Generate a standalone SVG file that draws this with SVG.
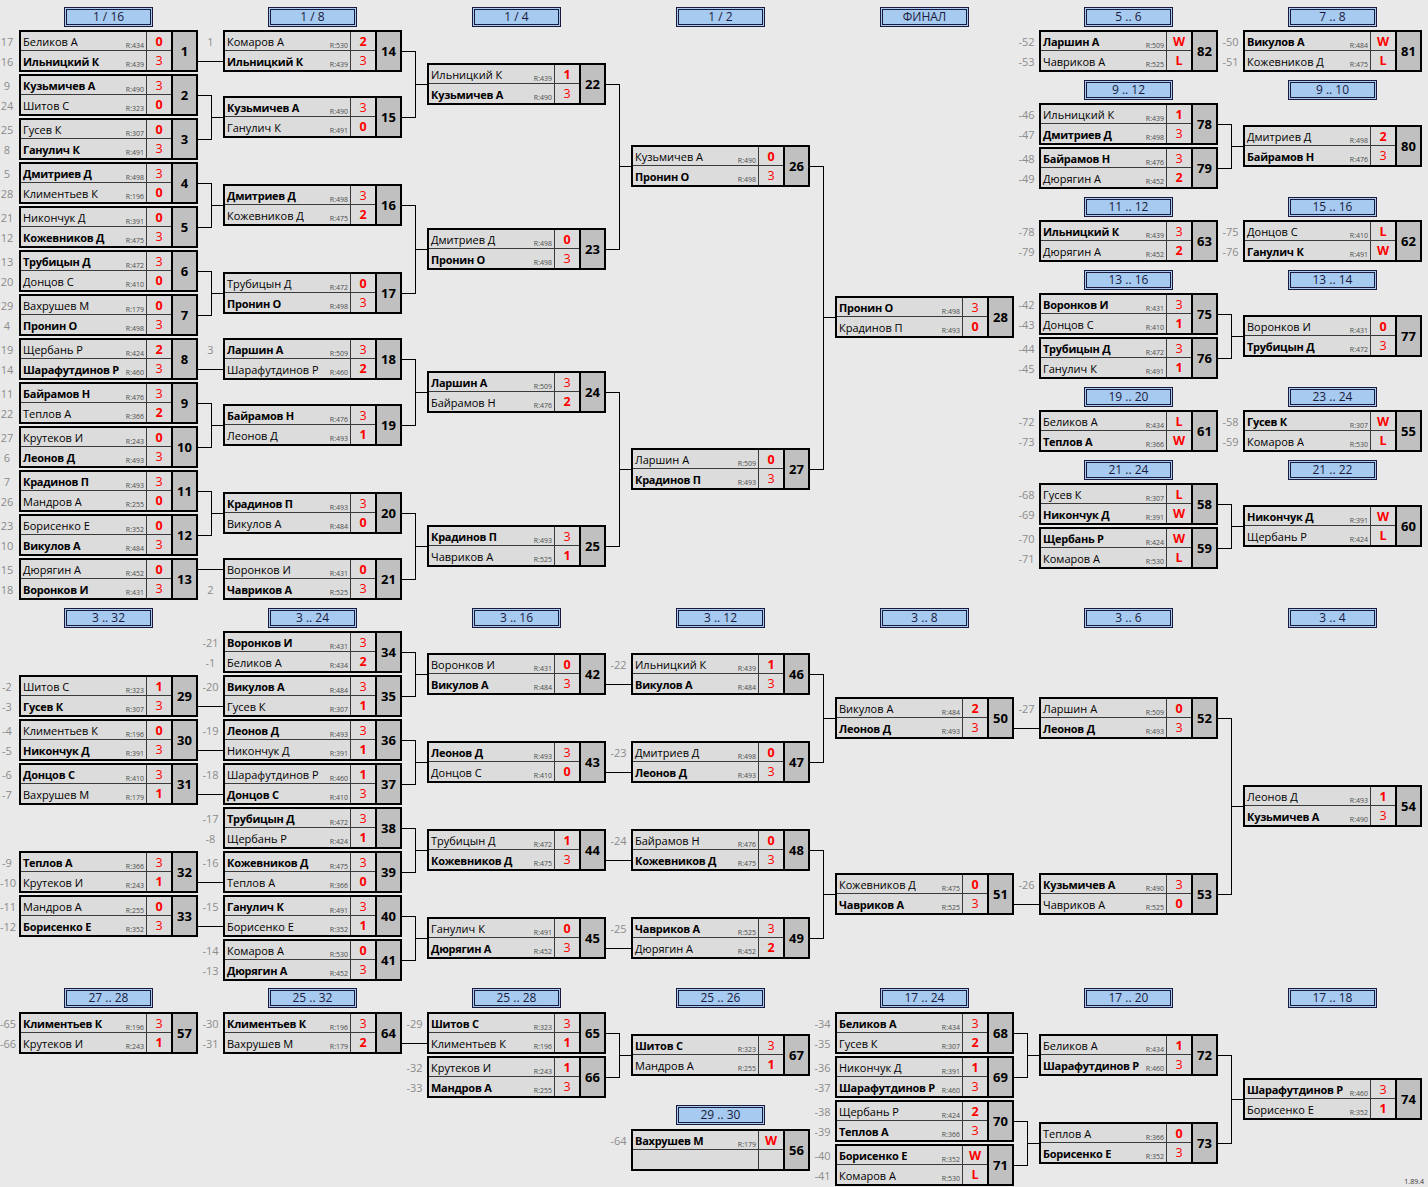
<svg xmlns="http://www.w3.org/2000/svg" xmlns:xlink="http://www.w3.org/1999/xlink" width="1428" height="1187" viewBox="0 0 1428 1187">
<style>
svg{font-family:"Open Sans","Noto Sans",sans-serif}
.nm{font-size:11px;fill:#000}
.b{font-weight:700}
.nm.b{letter-spacing:-0.25px}
.rt{font-size:7px;fill:#4d4d4d;text-anchor:end}
.sc{font-size:12.5px;fill:#f00;text-anchor:middle;letter-spacing:0}
.no{font-size:13px;font-weight:700;text-anchor:middle;fill:#000}
.sd{font-size:11px;fill:#8c8c8c;text-anchor:middle}
.hd{font-size:12px;fill:#1a1a3c;text-anchor:middle}
.ver{font-size:7px;fill:#333;text-anchor:end}
</style>
<defs>
<g id="bx">
<rect x="1" y="1" width="177" height="40" fill="#dcdcdc"/>
<rect x="153" y="1" width="25" height="40" fill="#c0c0c0"/>
<path d="M1 20.5H153M127.5 1V41" stroke="#3a3a3a" stroke-width="1" fill="none"/>
<path d="M153 1V41" stroke="#000" stroke-width="2"/>
<rect x="1" y="1" width="177" height="40" fill="none" stroke="#000" stroke-width="2"/>
</g>
<g id="hb">
<rect x="45.5" y="0.5" width="88" height="19" fill="#a6caf0" stroke="#1a1a3c" stroke-width="1"/>
<rect x="47.5" y="2.5" width="84" height="15" fill="none" stroke="#1a1a3c" stroke-width="1"/>
</g>
</defs>
<rect width="1428" height="1187" fill="#e9e9e9"/>

<g id="headers">
<g id="h-1-16" transform="translate(19 7)"><use href="#hb"/><text class="hd" x="89.5" y="14">1 / 16</text></g>
<g id="h-1-8" transform="translate(223 7)"><use href="#hb"/><text class="hd" x="89.5" y="14">1 / 8</text></g>
<g id="h-1-4" transform="translate(427 7)"><use href="#hb"/><text class="hd" x="89.5" y="14">1 / 4</text></g>
<g id="h-1-2" transform="translate(631 7)"><use href="#hb"/><text class="hd" x="89.5" y="14">1 / 2</text></g>
<g id="h-final" transform="translate(835 7)"><use href="#hb"/><text class="hd" x="89.5" y="14">ФИНАЛ</text></g>
<g id="h-5-6" transform="translate(1039 7)"><use href="#hb"/><text class="hd" x="89.5" y="14">5 .. 6</text></g>
<g id="h-7-8" transform="translate(1243 7)"><use href="#hb"/><text class="hd" x="89.5" y="14">7 .. 8</text></g>
<g id="h-9-12" transform="translate(1039 80)"><use href="#hb"/><text class="hd" x="89.5" y="14">9 .. 12</text></g>
<g id="h-9-10" transform="translate(1243 80)"><use href="#hb"/><text class="hd" x="89.5" y="14">9 .. 10</text></g>
<g id="h-11-12" transform="translate(1039 197)"><use href="#hb"/><text class="hd" x="89.5" y="14">11 .. 12</text></g>
<g id="h-15-16" transform="translate(1243 197)"><use href="#hb"/><text class="hd" x="89.5" y="14">15 .. 16</text></g>
<g id="h-13-16" transform="translate(1039 270)"><use href="#hb"/><text class="hd" x="89.5" y="14">13 .. 16</text></g>
<g id="h-13-14" transform="translate(1243 270)"><use href="#hb"/><text class="hd" x="89.5" y="14">13 .. 14</text></g>
<g id="h-19-20" transform="translate(1039 387)"><use href="#hb"/><text class="hd" x="89.5" y="14">19 .. 20</text></g>
<g id="h-23-24" transform="translate(1243 387)"><use href="#hb"/><text class="hd" x="89.5" y="14">23 .. 24</text></g>
<g id="h-21-24" transform="translate(1039 460)"><use href="#hb"/><text class="hd" x="89.5" y="14">21 .. 24</text></g>
<g id="h-21-22" transform="translate(1243 460)"><use href="#hb"/><text class="hd" x="89.5" y="14">21 .. 22</text></g>
<g id="h-3-32" transform="translate(19 608)"><use href="#hb"/><text class="hd" x="89.5" y="14">3 .. 32</text></g>
<g id="h-3-24" transform="translate(223 608)"><use href="#hb"/><text class="hd" x="89.5" y="14">3 .. 24</text></g>
<g id="h-3-16" transform="translate(427 608)"><use href="#hb"/><text class="hd" x="89.5" y="14">3 .. 16</text></g>
<g id="h-3-12" transform="translate(631 608)"><use href="#hb"/><text class="hd" x="89.5" y="14">3 .. 12</text></g>
<g id="h-3-8" transform="translate(835 608)"><use href="#hb"/><text class="hd" x="89.5" y="14">3 .. 8</text></g>
<g id="h-3-6" transform="translate(1039 608)"><use href="#hb"/><text class="hd" x="89.5" y="14">3 .. 6</text></g>
<g id="h-3-4" transform="translate(1243 608)"><use href="#hb"/><text class="hd" x="89.5" y="14">3 .. 4</text></g>
<g id="h-27-28" transform="translate(19 988)"><use href="#hb"/><text class="hd" x="89.5" y="14">27 .. 28</text></g>
<g id="h-25-32" transform="translate(223 988)"><use href="#hb"/><text class="hd" x="89.5" y="14">25 .. 32</text></g>
<g id="h-25-28" transform="translate(427 988)"><use href="#hb"/><text class="hd" x="89.5" y="14">25 .. 28</text></g>
<g id="h-25-26" transform="translate(631 988)"><use href="#hb"/><text class="hd" x="89.5" y="14">25 .. 26</text></g>
<g id="h-17-24" transform="translate(835 988)"><use href="#hb"/><text class="hd" x="89.5" y="14">17 .. 24</text></g>
<g id="h-17-20" transform="translate(1039 988)"><use href="#hb"/><text class="hd" x="89.5" y="14">17 .. 20</text></g>
<g id="h-17-18" transform="translate(1243 988)"><use href="#hb"/><text class="hd" x="89.5" y="14">17 .. 18</text></g>
<g id="h-29-30" transform="translate(631 1105)"><use href="#hb"/><text class="hd" x="89.5" y="14">29 .. 30</text></g>
</g>

<g id="connectors" fill="none" stroke="#000" stroke-width="1" shape-rendering="crispEdges">
<path d="M198 61H223"/>
<path d="M198 95H211V139H198M211 117H223"/>
<path d="M198 183H211V227H198M211 205H223"/>
<path d="M198 271H211V315H198M211 293H223"/>
<path d="M198 369H223"/>
<path d="M198 403H211V447H198M211 425H223"/>
<path d="M198 491H211V535H198M211 513H223"/>
<path d="M198 569H223"/>
<path d="M402 51H415V117H402M415 84H427"/>
<path d="M402 205H415V293H402M415 249H427"/>
<path d="M402 359H415V425H402M415 392H427"/>
<path d="M402 513H415V579H402M415 546H427"/>
<path d="M606 84H619V249H606M619 166H631"/>
<path d="M606 392H619V546H606M619 469H631"/>
<path d="M810 166H823V469H810M823 317H835"/>
<path d="M1218 124H1231V168H1218M1231 146H1243"/>
<path d="M1218 314H1231V358H1218M1231 336H1243"/>
<path d="M1218 504H1231V548H1218M1231 526H1243"/>
<path d="M198 706H223M198 750H223M198 794H223M198 882H223M198 926H223"/>
<path d="M402 652H415V696H402M415 674H427"/>
<path d="M402 740H415V784H402M415 762H427"/>
<path d="M402 828H415V872H402M415 850H427"/>
<path d="M402 916H415V960H402M415 938H427"/>
<path d="M606 684H631M606 772H631M606 860H631M606 948H631"/>
<path d="M810 674H823V762H810M823 718H835"/>
<path d="M810 850H823V938H810M823 894H835"/>
<path d="M1014 728H1039M1014 904H1039"/>
<path d="M1218 718H1231V894H1218M1231 806H1243"/>
<path d="M402 1043H427"/>
<path d="M606 1033H619V1077H606M619 1055H631"/>
<path d="M1014 1033H1027V1077H1014M1027 1055H1039"/>
<path d="M1014 1121H1027V1165H1014M1027 1143H1039"/>
<path d="M1218 1055H1231V1143H1218M1231 1099H1243"/>
</g>

<g id="matches">
<g id="m1" transform="translate(19 30)"><use href="#bx"/><text class="sd" x="-12" y="15.5">17</text><text class="nm" x="4" y="15.5">Беликов А</text><text class="rt" x="125" y="18">R:434</text><text class="sc b" x="140" y="15.5">0</text><text class="sd" x="-12" y="35.5">16</text><text class="nm b" x="4" y="35.5">Ильницкий К</text><text class="rt" x="125" y="37">R:439</text><text class="sc" x="140" y="35">3</text><text class="no" x="165.5" y="26">1</text></g>
<g id="m2" transform="translate(19 74)"><use href="#bx"/><text class="sd" x="-12" y="15.5">9</text><text class="nm b" x="4" y="15.5">Кузьмичев А</text><text class="rt" x="125" y="18">R:490</text><text class="sc" x="140" y="15.5">3</text><text class="sd" x="-12" y="35.5">24</text><text class="nm" x="4" y="35.5">Шитов С</text><text class="rt" x="125" y="37">R:323</text><text class="sc b" x="140" y="35">0</text><text class="no" x="165.5" y="26">2</text></g>
<g id="m3" transform="translate(19 118)"><use href="#bx"/><text class="sd" x="-12" y="15.5">25</text><text class="nm" x="4" y="15.5">Гусев К</text><text class="rt" x="125" y="18">R:307</text><text class="sc b" x="140" y="15.5">0</text><text class="sd" x="-12" y="35.5">8</text><text class="nm b" x="4" y="35.5">Ганулич К</text><text class="rt" x="125" y="37">R:491</text><text class="sc" x="140" y="35">3</text><text class="no" x="165.5" y="26">3</text></g>
<g id="m4" transform="translate(19 162)"><use href="#bx"/><text class="sd" x="-12" y="15.5">5</text><text class="nm b" x="4" y="15.5">Дмитриев Д</text><text class="rt" x="125" y="18">R:498</text><text class="sc" x="140" y="15.5">3</text><text class="sd" x="-12" y="35.5">28</text><text class="nm" x="4" y="35.5">Климентьев К</text><text class="rt" x="125" y="37">R:196</text><text class="sc b" x="140" y="35">0</text><text class="no" x="165.5" y="26">4</text></g>
<g id="m5" transform="translate(19 206)"><use href="#bx"/><text class="sd" x="-12" y="15.5">21</text><text class="nm" x="4" y="15.5">Никончук Д</text><text class="rt" x="125" y="18">R:391</text><text class="sc b" x="140" y="15.5">0</text><text class="sd" x="-12" y="35.5">12</text><text class="nm b" x="4" y="35.5">Кожевников Д</text><text class="rt" x="125" y="37">R:475</text><text class="sc" x="140" y="35">3</text><text class="no" x="165.5" y="26">5</text></g>
<g id="m6" transform="translate(19 250)"><use href="#bx"/><text class="sd" x="-12" y="15.5">13</text><text class="nm b" x="4" y="15.5">Трубицын Д</text><text class="rt" x="125" y="18">R:472</text><text class="sc" x="140" y="15.5">3</text><text class="sd" x="-12" y="35.5">20</text><text class="nm" x="4" y="35.5">Донцов С</text><text class="rt" x="125" y="37">R:410</text><text class="sc b" x="140" y="35">0</text><text class="no" x="165.5" y="26">6</text></g>
<g id="m7" transform="translate(19 294)"><use href="#bx"/><text class="sd" x="-12" y="15.5">29</text><text class="nm" x="4" y="15.5">Вахрушев М</text><text class="rt" x="125" y="18">R:179</text><text class="sc b" x="140" y="15.5">0</text><text class="sd" x="-12" y="35.5">4</text><text class="nm b" x="4" y="35.5">Пронин О</text><text class="rt" x="125" y="37">R:498</text><text class="sc" x="140" y="35">3</text><text class="no" x="165.5" y="26">7</text></g>
<g id="m8" transform="translate(19 338)"><use href="#bx"/><text class="sd" x="-12" y="15.5">19</text><text class="nm" x="4" y="15.5">Щербань Р</text><text class="rt" x="125" y="18">R:424</text><text class="sc b" x="140" y="15.5">2</text><text class="sd" x="-12" y="35.5">14</text><text class="nm b" x="4" y="35.5">Шарафутдинов Р</text><text class="rt" x="125" y="37">R:460</text><text class="sc" x="140" y="35">3</text><text class="no" x="165.5" y="26">8</text></g>
<g id="m9" transform="translate(19 382)"><use href="#bx"/><text class="sd" x="-12" y="15.5">11</text><text class="nm b" x="4" y="15.5">Байрамов Н</text><text class="rt" x="125" y="18">R:476</text><text class="sc" x="140" y="15.5">3</text><text class="sd" x="-12" y="35.5">22</text><text class="nm" x="4" y="35.5">Теплов А</text><text class="rt" x="125" y="37">R:366</text><text class="sc b" x="140" y="35">2</text><text class="no" x="165.5" y="26">9</text></g>
<g id="m10" transform="translate(19 426)"><use href="#bx"/><text class="sd" x="-12" y="15.5">27</text><text class="nm" x="4" y="15.5">Крутеков И</text><text class="rt" x="125" y="18">R:243</text><text class="sc b" x="140" y="15.5">0</text><text class="sd" x="-12" y="35.5">6</text><text class="nm b" x="4" y="35.5">Леонов Д</text><text class="rt" x="125" y="37">R:493</text><text class="sc" x="140" y="35">3</text><text class="no" x="165.5" y="26">10</text></g>
<g id="m11" transform="translate(19 470)"><use href="#bx"/><text class="sd" x="-12" y="15.5">7</text><text class="nm b" x="4" y="15.5">Крадинов П</text><text class="rt" x="125" y="18">R:493</text><text class="sc" x="140" y="15.5">3</text><text class="sd" x="-12" y="35.5">26</text><text class="nm" x="4" y="35.5">Мандров А</text><text class="rt" x="125" y="37">R:255</text><text class="sc b" x="140" y="35">0</text><text class="no" x="165.5" y="26">11</text></g>
<g id="m12" transform="translate(19 514)"><use href="#bx"/><text class="sd" x="-12" y="15.5">23</text><text class="nm" x="4" y="15.5">Борисенко Е</text><text class="rt" x="125" y="18">R:352</text><text class="sc b" x="140" y="15.5">0</text><text class="sd" x="-12" y="35.5">10</text><text class="nm b" x="4" y="35.5">Викулов А</text><text class="rt" x="125" y="37">R:484</text><text class="sc" x="140" y="35">3</text><text class="no" x="165.5" y="26">12</text></g>
<g id="m13" transform="translate(19 558)"><use href="#bx"/><text class="sd" x="-12" y="15.5">15</text><text class="nm" x="4" y="15.5">Дюрягин А</text><text class="rt" x="125" y="18">R:452</text><text class="sc b" x="140" y="15.5">0</text><text class="sd" x="-12" y="35.5">18</text><text class="nm b" x="4" y="35.5">Воронков И</text><text class="rt" x="125" y="37">R:431</text><text class="sc" x="140" y="35">3</text><text class="no" x="165.5" y="26">13</text></g>

<g id="m14" transform="translate(223 30)"><use href="#bx"/><text class="sd" x="-12.5" y="15.5">1</text><text class="nm" x="4" y="15.5">Комаров А</text><text class="rt" x="125" y="18">R:530</text><text class="sc b" x="140" y="15.5">2</text><text class="nm b" x="4" y="35.5">Ильницкий К</text><text class="rt" x="125" y="37">R:439</text><text class="sc" x="140" y="35">3</text><text class="no" x="165.5" y="26">14</text></g>
<g id="m15" transform="translate(223 96)"><use href="#bx"/><text class="nm b" x="4" y="15.5">Кузьмичев А</text><text class="rt" x="125" y="18">R:490</text><text class="sc" x="140" y="15.5">3</text><text class="nm" x="4" y="35.5">Ганулич К</text><text class="rt" x="125" y="37">R:491</text><text class="sc b" x="140" y="35">0</text><text class="no" x="165.5" y="26">15</text></g>
<g id="m16" transform="translate(223 184)"><use href="#bx"/><text class="nm b" x="4" y="15.5">Дмитриев Д</text><text class="rt" x="125" y="18">R:498</text><text class="sc" x="140" y="15.5">3</text><text class="nm" x="4" y="35.5">Кожевников Д</text><text class="rt" x="125" y="37">R:475</text><text class="sc b" x="140" y="35">2</text><text class="no" x="165.5" y="26">16</text></g>
<g id="m17" transform="translate(223 272)"><use href="#bx"/><text class="nm" x="4" y="15.5">Трубицын Д</text><text class="rt" x="125" y="18">R:472</text><text class="sc b" x="140" y="15.5">0</text><text class="nm b" x="4" y="35.5">Пронин О</text><text class="rt" x="125" y="37">R:498</text><text class="sc" x="140" y="35">3</text><text class="no" x="165.5" y="26">17</text></g>
<g id="m18" transform="translate(223 338)"><use href="#bx"/><text class="sd" x="-12.5" y="15.5">3</text><text class="nm b" x="4" y="15.5">Ларшин А</text><text class="rt" x="125" y="18">R:509</text><text class="sc" x="140" y="15.5">3</text><text class="nm" x="4" y="35.5">Шарафутдинов Р</text><text class="rt" x="125" y="37">R:460</text><text class="sc b" x="140" y="35">2</text><text class="no" x="165.5" y="26">18</text></g>
<g id="m19" transform="translate(223 404)"><use href="#bx"/><text class="nm b" x="4" y="15.5">Байрамов Н</text><text class="rt" x="125" y="18">R:476</text><text class="sc" x="140" y="15.5">3</text><text class="nm" x="4" y="35.5">Леонов Д</text><text class="rt" x="125" y="37">R:493</text><text class="sc b" x="140" y="35">1</text><text class="no" x="165.5" y="26">19</text></g>
<g id="m20" transform="translate(223 492)"><use href="#bx"/><text class="nm b" x="4" y="15.5">Крадинов П</text><text class="rt" x="125" y="18">R:493</text><text class="sc" x="140" y="15.5">3</text><text class="nm" x="4" y="35.5">Викулов А</text><text class="rt" x="125" y="37">R:484</text><text class="sc b" x="140" y="35">0</text><text class="no" x="165.5" y="26">20</text></g>
<g id="m21" transform="translate(223 558)"><use href="#bx"/><text class="nm" x="4" y="15.5">Воронков И</text><text class="rt" x="125" y="18">R:431</text><text class="sc b" x="140" y="15.5">0</text><text class="sd" x="-12.5" y="35.5">2</text><text class="nm b" x="4" y="35.5">Чавриков А</text><text class="rt" x="125" y="37">R:525</text><text class="sc" x="140" y="35">3</text><text class="no" x="165.5" y="26">21</text></g>

<g id="m22" transform="translate(427 63)"><use href="#bx"/><text class="nm" x="4" y="15.5">Ильницкий К</text><text class="rt" x="125" y="18">R:439</text><text class="sc b" x="140" y="15.5">1</text><text class="nm b" x="4" y="35.5">Кузьмичев А</text><text class="rt" x="125" y="37">R:490</text><text class="sc" x="140" y="35">3</text><text class="no" x="165.5" y="26">22</text></g>
<g id="m23" transform="translate(427 228)"><use href="#bx"/><text class="nm" x="4" y="15.5">Дмитриев Д</text><text class="rt" x="125" y="18">R:498</text><text class="sc b" x="140" y="15.5">0</text><text class="nm b" x="4" y="35.5">Пронин О</text><text class="rt" x="125" y="37">R:498</text><text class="sc" x="140" y="35">3</text><text class="no" x="165.5" y="26">23</text></g>
<g id="m24" transform="translate(427 371)"><use href="#bx"/><text class="nm b" x="4" y="15.5">Ларшин А</text><text class="rt" x="125" y="18">R:509</text><text class="sc" x="140" y="15.5">3</text><text class="nm" x="4" y="35.5">Байрамов Н</text><text class="rt" x="125" y="37">R:476</text><text class="sc b" x="140" y="35">2</text><text class="no" x="165.5" y="26">24</text></g>
<g id="m25" transform="translate(427 525)"><use href="#bx"/><text class="nm b" x="4" y="15.5">Крадинов П</text><text class="rt" x="125" y="18">R:493</text><text class="sc" x="140" y="15.5">3</text><text class="nm" x="4" y="35.5">Чавриков А</text><text class="rt" x="125" y="37">R:525</text><text class="sc b" x="140" y="35">1</text><text class="no" x="165.5" y="26">25</text></g>

<g id="m26" transform="translate(631 145)"><use href="#bx"/><text class="nm" x="4" y="15.5">Кузьмичев А</text><text class="rt" x="125" y="18">R:490</text><text class="sc b" x="140" y="15.5">0</text><text class="nm b" x="4" y="35.5">Пронин О</text><text class="rt" x="125" y="37">R:498</text><text class="sc" x="140" y="35">3</text><text class="no" x="165.5" y="26">26</text></g>
<g id="m27" transform="translate(631 448)"><use href="#bx"/><text class="nm" x="4" y="15.5">Ларшин А</text><text class="rt" x="125" y="18">R:509</text><text class="sc b" x="140" y="15.5">0</text><text class="nm b" x="4" y="35.5">Крадинов П</text><text class="rt" x="125" y="37">R:493</text><text class="sc" x="140" y="35">3</text><text class="no" x="165.5" y="26">27</text></g>

<g id="m28" transform="translate(835 296)"><use href="#bx"/><text class="nm b" x="4" y="15.5">Пронин О</text><text class="rt" x="125" y="18">R:498</text><text class="sc" x="140" y="15.5">3</text><text class="nm" x="4" y="35.5">Крадинов П</text><text class="rt" x="125" y="37">R:493</text><text class="sc b" x="140" y="35">0</text><text class="no" x="165.5" y="26">28</text></g>

<g id="m82" transform="translate(1039 30)"><use href="#bx"/><text class="sd" x="-12.5" y="15.5">-52</text><text class="nm b" x="4" y="15.5">Ларшин А</text><text class="rt" x="125" y="18">R:509</text><text class="sc b" x="140" y="15.5">W</text><text class="sd" x="-12.5" y="35.5">-53</text><text class="nm" x="4" y="35.5">Чавриков А</text><text class="rt" x="125" y="37">R:525</text><text class="sc b" x="140" y="35">L</text><text class="no" x="165.5" y="26">82</text></g>
<g id="m78" transform="translate(1039 103)"><use href="#bx"/><text class="sd" x="-12.5" y="15.5">-46</text><text class="nm" x="4" y="15.5">Ильницкий К</text><text class="rt" x="125" y="18">R:439</text><text class="sc b" x="140" y="15.5">1</text><text class="sd" x="-12.5" y="35.5">-47</text><text class="nm b" x="4" y="35.5">Дмитриев Д</text><text class="rt" x="125" y="37">R:498</text><text class="sc" x="140" y="35">3</text><text class="no" x="165.5" y="26">78</text></g>
<g id="m79" transform="translate(1039 147)"><use href="#bx"/><text class="sd" x="-12.5" y="15.5">-48</text><text class="nm b" x="4" y="15.5">Байрамов Н</text><text class="rt" x="125" y="18">R:476</text><text class="sc" x="140" y="15.5">3</text><text class="sd" x="-12.5" y="35.5">-49</text><text class="nm" x="4" y="35.5">Дюрягин А</text><text class="rt" x="125" y="37">R:452</text><text class="sc b" x="140" y="35">2</text><text class="no" x="165.5" y="26">79</text></g>
<g id="m63" transform="translate(1039 220)"><use href="#bx"/><text class="sd" x="-12.5" y="15.5">-78</text><text class="nm b" x="4" y="15.5">Ильницкий К</text><text class="rt" x="125" y="18">R:439</text><text class="sc" x="140" y="15.5">3</text><text class="sd" x="-12.5" y="35.5">-79</text><text class="nm" x="4" y="35.5">Дюрягин А</text><text class="rt" x="125" y="37">R:452</text><text class="sc b" x="140" y="35">2</text><text class="no" x="165.5" y="26">63</text></g>
<g id="m75" transform="translate(1039 293)"><use href="#bx"/><text class="sd" x="-12.5" y="15.5">-42</text><text class="nm b" x="4" y="15.5">Воронков И</text><text class="rt" x="125" y="18">R:431</text><text class="sc" x="140" y="15.5">3</text><text class="sd" x="-12.5" y="35.5">-43</text><text class="nm" x="4" y="35.5">Донцов С</text><text class="rt" x="125" y="37">R:410</text><text class="sc b" x="140" y="35">1</text><text class="no" x="165.5" y="26">75</text></g>
<g id="m76" transform="translate(1039 337)"><use href="#bx"/><text class="sd" x="-12.5" y="15.5">-44</text><text class="nm b" x="4" y="15.5">Трубицын Д</text><text class="rt" x="125" y="18">R:472</text><text class="sc" x="140" y="15.5">3</text><text class="sd" x="-12.5" y="35.5">-45</text><text class="nm" x="4" y="35.5">Ганулич К</text><text class="rt" x="125" y="37">R:491</text><text class="sc b" x="140" y="35">1</text><text class="no" x="165.5" y="26">76</text></g>
<g id="m61" transform="translate(1039 410)"><use href="#bx"/><text class="sd" x="-12.5" y="15.5">-72</text><text class="nm" x="4" y="15.5">Беликов А</text><text class="rt" x="125" y="18">R:434</text><text class="sc b" x="140" y="15.5">L</text><text class="sd" x="-12.5" y="35.5">-73</text><text class="nm b" x="4" y="35.5">Теплов А</text><text class="rt" x="125" y="37">R:366</text><text class="sc b" x="140" y="35">W</text><text class="no" x="165.5" y="26">61</text></g>
<g id="m58" transform="translate(1039 483)"><use href="#bx"/><text class="sd" x="-12.5" y="15.5">-68</text><text class="nm" x="4" y="15.5">Гусев К</text><text class="rt" x="125" y="18">R:307</text><text class="sc b" x="140" y="15.5">L</text><text class="sd" x="-12.5" y="35.5">-69</text><text class="nm b" x="4" y="35.5">Никончук Д</text><text class="rt" x="125" y="37">R:391</text><text class="sc b" x="140" y="35">W</text><text class="no" x="165.5" y="26">58</text></g>
<g id="m59" transform="translate(1039 527)"><use href="#bx"/><text class="sd" x="-12.5" y="15.5">-70</text><text class="nm b" x="4" y="15.5">Щербань Р</text><text class="rt" x="125" y="18">R:424</text><text class="sc b" x="140" y="15.5">W</text><text class="sd" x="-12.5" y="35.5">-71</text><text class="nm" x="4" y="35.5">Комаров А</text><text class="rt" x="125" y="37">R:530</text><text class="sc b" x="140" y="35">L</text><text class="no" x="165.5" y="26">59</text></g>

<g id="m81" transform="translate(1243 30)"><use href="#bx"/><text class="sd" x="-12.5" y="15.5">-50</text><text class="nm b" x="4" y="15.5">Викулов А</text><text class="rt" x="125" y="18">R:484</text><text class="sc b" x="140" y="15.5">W</text><text class="sd" x="-12.5" y="35.5">-51</text><text class="nm" x="4" y="35.5">Кожевников Д</text><text class="rt" x="125" y="37">R:475</text><text class="sc b" x="140" y="35">L</text><text class="no" x="165.5" y="26">81</text></g>
<g id="m80" transform="translate(1243 125)"><use href="#bx"/><text class="nm" x="4" y="15.5">Дмитриев Д</text><text class="rt" x="125" y="18">R:498</text><text class="sc b" x="140" y="15.5">2</text><text class="nm b" x="4" y="35.5">Байрамов Н</text><text class="rt" x="125" y="37">R:476</text><text class="sc" x="140" y="35">3</text><text class="no" x="165.5" y="26">80</text></g>
<g id="m62" transform="translate(1243 220)"><use href="#bx"/><text class="sd" x="-12.5" y="15.5">-75</text><text class="nm" x="4" y="15.5">Донцов С</text><text class="rt" x="125" y="18">R:410</text><text class="sc b" x="140" y="15.5">L</text><text class="sd" x="-12.5" y="35.5">-76</text><text class="nm b" x="4" y="35.5">Ганулич К</text><text class="rt" x="125" y="37">R:491</text><text class="sc b" x="140" y="35">W</text><text class="no" x="165.5" y="26">62</text></g>
<g id="m77" transform="translate(1243 315)"><use href="#bx"/><text class="nm" x="4" y="15.5">Воронков И</text><text class="rt" x="125" y="18">R:431</text><text class="sc b" x="140" y="15.5">0</text><text class="nm b" x="4" y="35.5">Трубицын Д</text><text class="rt" x="125" y="37">R:472</text><text class="sc" x="140" y="35">3</text><text class="no" x="165.5" y="26">77</text></g>
<g id="m55" transform="translate(1243 410)"><use href="#bx"/><text class="sd" x="-12.5" y="15.5">-58</text><text class="nm b" x="4" y="15.5">Гусев К</text><text class="rt" x="125" y="18">R:307</text><text class="sc b" x="140" y="15.5">W</text><text class="sd" x="-12.5" y="35.5">-59</text><text class="nm" x="4" y="35.5">Комаров А</text><text class="rt" x="125" y="37">R:530</text><text class="sc b" x="140" y="35">L</text><text class="no" x="165.5" y="26">55</text></g>
<g id="m60" transform="translate(1243 505)"><use href="#bx"/><text class="nm b" x="4" y="15.5">Никончук Д</text><text class="rt" x="125" y="18">R:391</text><text class="sc b" x="140" y="15.5">W</text><text class="nm" x="4" y="35.5">Щербань Р</text><text class="rt" x="125" y="37">R:424</text><text class="sc b" x="140" y="35">L</text><text class="no" x="165.5" y="26">60</text></g>

<g id="m29" transform="translate(19 675)"><use href="#bx"/><text class="sd" x="-12" y="15.5">-2</text><text class="nm" x="4" y="15.5">Шитов С</text><text class="rt" x="125" y="18">R:323</text><text class="sc b" x="140" y="15.5">1</text><text class="sd" x="-12" y="35.5">-3</text><text class="nm b" x="4" y="35.5">Гусев К</text><text class="rt" x="125" y="37">R:307</text><text class="sc" x="140" y="35">3</text><text class="no" x="165.5" y="26">29</text></g>
<g id="m30" transform="translate(19 719)"><use href="#bx"/><text class="sd" x="-12" y="15.5">-4</text><text class="nm" x="4" y="15.5">Климентьев К</text><text class="rt" x="125" y="18">R:196</text><text class="sc b" x="140" y="15.5">0</text><text class="sd" x="-12" y="35.5">-5</text><text class="nm b" x="4" y="35.5">Никончук Д</text><text class="rt" x="125" y="37">R:391</text><text class="sc" x="140" y="35">3</text><text class="no" x="165.5" y="26">30</text></g>
<g id="m31" transform="translate(19 763)"><use href="#bx"/><text class="sd" x="-12" y="15.5">-6</text><text class="nm b" x="4" y="15.5">Донцов С</text><text class="rt" x="125" y="18">R:410</text><text class="sc" x="140" y="15.5">3</text><text class="sd" x="-12" y="35.5">-7</text><text class="nm" x="4" y="35.5">Вахрушев М</text><text class="rt" x="125" y="37">R:179</text><text class="sc b" x="140" y="35">1</text><text class="no" x="165.5" y="26">31</text></g>
<g id="m32" transform="translate(19 851)"><use href="#bx"/><text class="sd" x="-12" y="15.5">-9</text><text class="nm b" x="4" y="15.5">Теплов А</text><text class="rt" x="125" y="18">R:366</text><text class="sc" x="140" y="15.5">3</text><text class="sd" x="-11" y="35.5">-10</text><text class="nm" x="4" y="35.5">Крутеков И</text><text class="rt" x="125" y="37">R:243</text><text class="sc b" x="140" y="35">1</text><text class="no" x="165.5" y="26">32</text></g>
<g id="m33" transform="translate(19 895)"><use href="#bx"/><text class="sd" x="-11" y="15.5">-11</text><text class="nm" x="4" y="15.5">Мандров А</text><text class="rt" x="125" y="18">R:255</text><text class="sc b" x="140" y="15.5">0</text><text class="sd" x="-11" y="35.5">-12</text><text class="nm b" x="4" y="35.5">Борисенко Е</text><text class="rt" x="125" y="37">R:352</text><text class="sc" x="140" y="35">3</text><text class="no" x="165.5" y="26">33</text></g>

<g id="m34" transform="translate(223 631)"><use href="#bx"/><text class="sd" x="-12.5" y="15.5">-21</text><text class="nm b" x="4" y="15.5">Воронков И</text><text class="rt" x="125" y="18">R:431</text><text class="sc" x="140" y="15.5">3</text><text class="sd" x="-12.5" y="35.5">-1</text><text class="nm" x="4" y="35.5">Беликов А</text><text class="rt" x="125" y="37">R:434</text><text class="sc b" x="140" y="35">2</text><text class="no" x="165.5" y="26">34</text></g>
<g id="m35" transform="translate(223 675)"><use href="#bx"/><text class="sd" x="-12.5" y="15.5">-20</text><text class="nm b" x="4" y="15.5">Викулов А</text><text class="rt" x="125" y="18">R:484</text><text class="sc" x="140" y="15.5">3</text><text class="nm" x="4" y="35.5">Гусев К</text><text class="rt" x="125" y="37">R:307</text><text class="sc b" x="140" y="35">1</text><text class="no" x="165.5" y="26">35</text></g>
<g id="m36" transform="translate(223 719)"><use href="#bx"/><text class="sd" x="-12.5" y="15.5">-19</text><text class="nm b" x="4" y="15.5">Леонов Д</text><text class="rt" x="125" y="18">R:493</text><text class="sc" x="140" y="15.5">3</text><text class="nm" x="4" y="35.5">Никончук Д</text><text class="rt" x="125" y="37">R:391</text><text class="sc b" x="140" y="35">1</text><text class="no" x="165.5" y="26">36</text></g>
<g id="m37" transform="translate(223 763)"><use href="#bx"/><text class="sd" x="-12.5" y="15.5">-18</text><text class="nm" x="4" y="15.5">Шарафутдинов Р</text><text class="rt" x="125" y="18">R:460</text><text class="sc b" x="140" y="15.5">1</text><text class="nm b" x="4" y="35.5">Донцов С</text><text class="rt" x="125" y="37">R:410</text><text class="sc" x="140" y="35">3</text><text class="no" x="165.5" y="26">37</text></g>
<g id="m38" transform="translate(223 807)"><use href="#bx"/><text class="sd" x="-12.5" y="15.5">-17</text><text class="nm b" x="4" y="15.5">Трубицын Д</text><text class="rt" x="125" y="18">R:472</text><text class="sc" x="140" y="15.5">3</text><text class="sd" x="-12.5" y="35.5">-8</text><text class="nm" x="4" y="35.5">Щербань Р</text><text class="rt" x="125" y="37">R:424</text><text class="sc b" x="140" y="35">1</text><text class="no" x="165.5" y="26">38</text></g>
<g id="m39" transform="translate(223 851)"><use href="#bx"/><text class="sd" x="-12.5" y="15.5">-16</text><text class="nm b" x="4" y="15.5">Кожевников Д</text><text class="rt" x="125" y="18">R:475</text><text class="sc" x="140" y="15.5">3</text><text class="nm" x="4" y="35.5">Теплов А</text><text class="rt" x="125" y="37">R:366</text><text class="sc b" x="140" y="35">0</text><text class="no" x="165.5" y="26">39</text></g>
<g id="m40" transform="translate(223 895)"><use href="#bx"/><text class="sd" x="-12.5" y="15.5">-15</text><text class="nm b" x="4" y="15.5">Ганулич К</text><text class="rt" x="125" y="18">R:491</text><text class="sc" x="140" y="15.5">3</text><text class="nm" x="4" y="35.5">Борисенко Е</text><text class="rt" x="125" y="37">R:352</text><text class="sc b" x="140" y="35">1</text><text class="no" x="165.5" y="26">40</text></g>
<g id="m41" transform="translate(223 939)"><use href="#bx"/><text class="sd" x="-12.5" y="15.5">-14</text><text class="nm" x="4" y="15.5">Комаров А</text><text class="rt" x="125" y="18">R:530</text><text class="sc b" x="140" y="15.5">0</text><text class="sd" x="-12.5" y="35.5">-13</text><text class="nm b" x="4" y="35.5">Дюрягин А</text><text class="rt" x="125" y="37">R:452</text><text class="sc" x="140" y="35">3</text><text class="no" x="165.5" y="26">41</text></g>

<g id="m42" transform="translate(427 653)"><use href="#bx"/><text class="nm" x="4" y="15.5">Воронков И</text><text class="rt" x="125" y="18">R:431</text><text class="sc b" x="140" y="15.5">0</text><text class="nm b" x="4" y="35.5">Викулов А</text><text class="rt" x="125" y="37">R:484</text><text class="sc" x="140" y="35">3</text><text class="no" x="165.5" y="26">42</text></g>
<g id="m43" transform="translate(427 741)"><use href="#bx"/><text class="nm b" x="4" y="15.5">Леонов Д</text><text class="rt" x="125" y="18">R:493</text><text class="sc" x="140" y="15.5">3</text><text class="nm" x="4" y="35.5">Донцов С</text><text class="rt" x="125" y="37">R:410</text><text class="sc b" x="140" y="35">0</text><text class="no" x="165.5" y="26">43</text></g>
<g id="m44" transform="translate(427 829)"><use href="#bx"/><text class="nm" x="4" y="15.5">Трубицын Д</text><text class="rt" x="125" y="18">R:472</text><text class="sc b" x="140" y="15.5">1</text><text class="nm b" x="4" y="35.5">Кожевников Д</text><text class="rt" x="125" y="37">R:475</text><text class="sc" x="140" y="35">3</text><text class="no" x="165.5" y="26">44</text></g>
<g id="m45" transform="translate(427 917)"><use href="#bx"/><text class="nm" x="4" y="15.5">Ганулич К</text><text class="rt" x="125" y="18">R:491</text><text class="sc b" x="140" y="15.5">0</text><text class="nm b" x="4" y="35.5">Дюрягин А</text><text class="rt" x="125" y="37">R:452</text><text class="sc" x="140" y="35">3</text><text class="no" x="165.5" y="26">45</text></g>

<g id="m46" transform="translate(631 653)"><use href="#bx"/><text class="sd" x="-12.5" y="15.5">-22</text><text class="nm" x="4" y="15.5">Ильницкий К</text><text class="rt" x="125" y="18">R:439</text><text class="sc b" x="140" y="15.5">1</text><text class="nm b" x="4" y="35.5">Викулов А</text><text class="rt" x="125" y="37">R:484</text><text class="sc" x="140" y="35">3</text><text class="no" x="165.5" y="26">46</text></g>
<g id="m47" transform="translate(631 741)"><use href="#bx"/><text class="sd" x="-12.5" y="15.5">-23</text><text class="nm" x="4" y="15.5">Дмитриев Д</text><text class="rt" x="125" y="18">R:498</text><text class="sc b" x="140" y="15.5">0</text><text class="nm b" x="4" y="35.5">Леонов Д</text><text class="rt" x="125" y="37">R:493</text><text class="sc" x="140" y="35">3</text><text class="no" x="165.5" y="26">47</text></g>
<g id="m48" transform="translate(631 829)"><use href="#bx"/><text class="sd" x="-12.5" y="15.5">-24</text><text class="nm" x="4" y="15.5">Байрамов Н</text><text class="rt" x="125" y="18">R:476</text><text class="sc b" x="140" y="15.5">0</text><text class="nm b" x="4" y="35.5">Кожевников Д</text><text class="rt" x="125" y="37">R:475</text><text class="sc" x="140" y="35">3</text><text class="no" x="165.5" y="26">48</text></g>
<g id="m49" transform="translate(631 917)"><use href="#bx"/><text class="sd" x="-12.5" y="15.5">-25</text><text class="nm b" x="4" y="15.5">Чавриков А</text><text class="rt" x="125" y="18">R:525</text><text class="sc" x="140" y="15.5">3</text><text class="nm" x="4" y="35.5">Дюрягин А</text><text class="rt" x="125" y="37">R:452</text><text class="sc b" x="140" y="35">2</text><text class="no" x="165.5" y="26">49</text></g>

<g id="m50" transform="translate(835 697)"><use href="#bx"/><text class="nm" x="4" y="15.5">Викулов А</text><text class="rt" x="125" y="18">R:484</text><text class="sc b" x="140" y="15.5">2</text><text class="nm b" x="4" y="35.5">Леонов Д</text><text class="rt" x="125" y="37">R:493</text><text class="sc" x="140" y="35">3</text><text class="no" x="165.5" y="26">50</text></g>
<g id="m51" transform="translate(835 873)"><use href="#bx"/><text class="nm" x="4" y="15.5">Кожевников Д</text><text class="rt" x="125" y="18">R:475</text><text class="sc b" x="140" y="15.5">0</text><text class="nm b" x="4" y="35.5">Чавриков А</text><text class="rt" x="125" y="37">R:525</text><text class="sc" x="140" y="35">3</text><text class="no" x="165.5" y="26">51</text></g>

<g id="m52" transform="translate(1039 697)"><use href="#bx"/><text class="sd" x="-12.5" y="15.5">-27</text><text class="nm" x="4" y="15.5">Ларшин А</text><text class="rt" x="125" y="18">R:509</text><text class="sc b" x="140" y="15.5">0</text><text class="nm b" x="4" y="35.5">Леонов Д</text><text class="rt" x="125" y="37">R:493</text><text class="sc" x="140" y="35">3</text><text class="no" x="165.5" y="26">52</text></g>
<g id="m53" transform="translate(1039 873)"><use href="#bx"/><text class="sd" x="-12.5" y="15.5">-26</text><text class="nm b" x="4" y="15.5">Кузьмичев А</text><text class="rt" x="125" y="18">R:490</text><text class="sc" x="140" y="15.5">3</text><text class="nm" x="4" y="35.5">Чавриков А</text><text class="rt" x="125" y="37">R:525</text><text class="sc b" x="140" y="35">0</text><text class="no" x="165.5" y="26">53</text></g>

<g id="m54" transform="translate(1243 785)"><use href="#bx"/><text class="nm" x="4" y="15.5">Леонов Д</text><text class="rt" x="125" y="18">R:493</text><text class="sc b" x="140" y="15.5">1</text><text class="nm b" x="4" y="35.5">Кузьмичев А</text><text class="rt" x="125" y="37">R:490</text><text class="sc" x="140" y="35">3</text><text class="no" x="165.5" y="26">54</text></g>

<g id="m57" transform="translate(19 1012)"><use href="#bx"/><text class="sd" x="-11" y="15.5">-65</text><text class="nm b" x="4" y="15.5">Климентьев К</text><text class="rt" x="125" y="18">R:196</text><text class="sc" x="140" y="15.5">3</text><text class="sd" x="-11" y="35.5">-66</text><text class="nm" x="4" y="35.5">Крутеков И</text><text class="rt" x="125" y="37">R:243</text><text class="sc b" x="140" y="35">1</text><text class="no" x="165.5" y="26">57</text></g>
<g id="m64" transform="translate(223 1012)"><use href="#bx"/><text class="sd" x="-12.5" y="15.5">-30</text><text class="nm b" x="4" y="15.5">Климентьев К</text><text class="rt" x="125" y="18">R:196</text><text class="sc" x="140" y="15.5">3</text><text class="sd" x="-12.5" y="35.5">-31</text><text class="nm" x="4" y="35.5">Вахрушев М</text><text class="rt" x="125" y="37">R:179</text><text class="sc b" x="140" y="35">2</text><text class="no" x="165.5" y="26">64</text></g>
<g id="m65" transform="translate(427 1012)"><use href="#bx"/><text class="sd" x="-12.5" y="15.5">-29</text><text class="nm b" x="4" y="15.5">Шитов С</text><text class="rt" x="125" y="18">R:323</text><text class="sc" x="140" y="15.5">3</text><text class="nm" x="4" y="35.5">Климентьев К</text><text class="rt" x="125" y="37">R:196</text><text class="sc b" x="140" y="35">1</text><text class="no" x="165.5" y="26">65</text></g>
<g id="m66" transform="translate(427 1056)"><use href="#bx"/><text class="sd" x="-12.5" y="15.5">-32</text><text class="nm" x="4" y="15.5">Крутеков И</text><text class="rt" x="125" y="18">R:243</text><text class="sc b" x="140" y="15.5">1</text><text class="sd" x="-12.5" y="35.5">-33</text><text class="nm b" x="4" y="35.5">Мандров А</text><text class="rt" x="125" y="37">R:255</text><text class="sc" x="140" y="35">3</text><text class="no" x="165.5" y="26">66</text></g>
<g id="m67" transform="translate(631 1034)"><use href="#bx"/><text class="nm b" x="4" y="15.5">Шитов С</text><text class="rt" x="125" y="18">R:323</text><text class="sc" x="140" y="15.5">3</text><text class="nm" x="4" y="35.5">Мандров А</text><text class="rt" x="125" y="37">R:255</text><text class="sc b" x="140" y="35">1</text><text class="no" x="165.5" y="26">67</text></g>
<g id="m56" transform="translate(631 1129)"><use href="#bx"/><text class="sd" x="-12.5" y="15.5">-64</text><text class="nm b" x="4" y="15.5">Вахрушев М</text><text class="rt" x="125" y="18">R:179</text><text class="sc b" x="140" y="15.5">W</text><text class="no" x="165.5" y="26">56</text></g>
<g id="m68" transform="translate(835 1012)"><use href="#bx"/><text class="sd" x="-12.5" y="15.5">-34</text><text class="nm b" x="4" y="15.5">Беликов А</text><text class="rt" x="125" y="18">R:434</text><text class="sc" x="140" y="15.5">3</text><text class="sd" x="-12.5" y="35.5">-35</text><text class="nm" x="4" y="35.5">Гусев К</text><text class="rt" x="125" y="37">R:307</text><text class="sc b" x="140" y="35">2</text><text class="no" x="165.5" y="26">68</text></g>
<g id="m69" transform="translate(835 1056)"><use href="#bx"/><text class="sd" x="-12.5" y="15.5">-36</text><text class="nm" x="4" y="15.5">Никончук Д</text><text class="rt" x="125" y="18">R:391</text><text class="sc b" x="140" y="15.5">1</text><text class="sd" x="-12.5" y="35.5">-37</text><text class="nm b" x="4" y="35.5">Шарафутдинов Р</text><text class="rt" x="125" y="37">R:460</text><text class="sc" x="140" y="35">3</text><text class="no" x="165.5" y="26">69</text></g>
<g id="m70" transform="translate(835 1100)"><use href="#bx"/><text class="sd" x="-12.5" y="15.5">-38</text><text class="nm" x="4" y="15.5">Щербань Р</text><text class="rt" x="125" y="18">R:424</text><text class="sc b" x="140" y="15.5">2</text><text class="sd" x="-12.5" y="35.5">-39</text><text class="nm b" x="4" y="35.5">Теплов А</text><text class="rt" x="125" y="37">R:366</text><text class="sc" x="140" y="35">3</text><text class="no" x="165.5" y="26">70</text></g>
<g id="m71" transform="translate(835 1144)"><use href="#bx"/><text class="sd" x="-12.5" y="15.5">-40</text><text class="nm b" x="4" y="15.5">Борисенко Е</text><text class="rt" x="125" y="18">R:352</text><text class="sc b" x="140" y="15.5">W</text><text class="sd" x="-12.5" y="35.5">-41</text><text class="nm" x="4" y="35.5">Комаров А</text><text class="rt" x="125" y="37">R:530</text><text class="sc b" x="140" y="35">L</text><text class="no" x="165.5" y="26">71</text></g>
<g id="m72" transform="translate(1039 1034)"><use href="#bx"/><text class="nm" x="4" y="15.5">Беликов А</text><text class="rt" x="125" y="18">R:434</text><text class="sc b" x="140" y="15.5">1</text><text class="nm b" x="4" y="35.5">Шарафутдинов Р</text><text class="rt" x="125" y="37">R:460</text><text class="sc" x="140" y="35">3</text><text class="no" x="165.5" y="26">72</text></g>
<g id="m73" transform="translate(1039 1122)"><use href="#bx"/><text class="nm" x="4" y="15.5">Теплов А</text><text class="rt" x="125" y="18">R:366</text><text class="sc b" x="140" y="15.5">0</text><text class="nm b" x="4" y="35.5">Борисенко Е</text><text class="rt" x="125" y="37">R:352</text><text class="sc" x="140" y="35">3</text><text class="no" x="165.5" y="26">73</text></g>
<g id="m74" transform="translate(1243 1078)"><use href="#bx"/><text class="nm b" x="4" y="15.5">Шарафутдинов Р</text><text class="rt" x="125" y="18">R:460</text><text class="sc" x="140" y="15.5">3</text><text class="nm" x="4" y="35.5">Борисенко Е</text><text class="rt" x="125" y="37">R:352</text><text class="sc b" x="140" y="35">1</text><text class="no" x="165.5" y="26">74</text></g>
</g>

<text class="ver" x="1424" y="1184">1.89.4</text>
</svg>
